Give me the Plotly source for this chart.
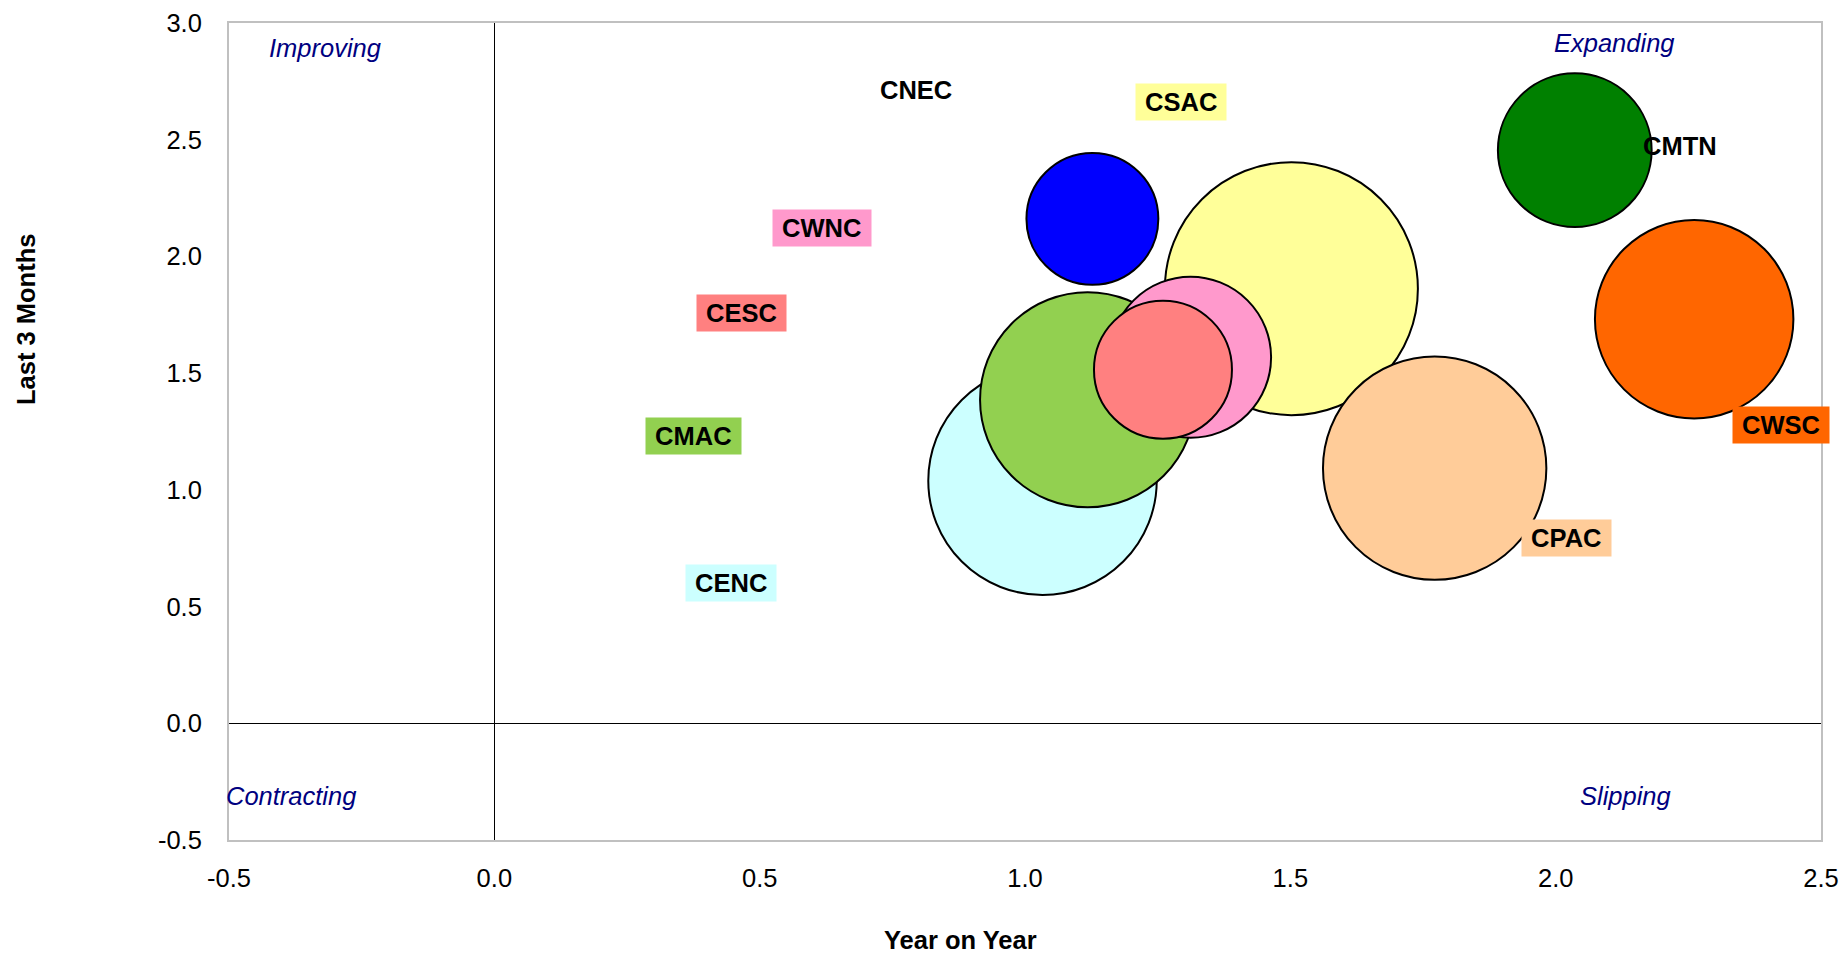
import plotly.graph_objects as go

# Regional growth: year-on-year vs. last-3-months, bubble area = regional weight
regions = ["CNEC", "CSAC", "CMTN", "CWSC", "CPAC", "CENC", "CMAC", "CWNC", "CESC"]
year_on_year = [1.127, 1.502, 2.036, 2.261, 1.772, 1.033, 1.118, 1.312, 1.260]
last_3_months = [2.161, 1.862, 2.455, 1.731, 1.093, 1.039, 1.386, 1.568, 1.515]
bubble_size = [5.3, 19.5, 7.2, 12.0, 15.2, 15.9, 14.1, 7.9, 5.8]

x_ticks = [-0.5, 0.0, 0.5, 1.0, 1.5, 2.0, 2.5]
y_ticks = [-0.5, 0.0, 0.5, 1.0, 1.5, 2.0, 2.5, 3.0]

quadrants = ["Improving", "Expanding", "Contracting", "Slipping"]

# ---- styling ----
colors = {
    "CNEC": "#0000FF", "CSAC": "#FFFF99", "CMTN": "#008000",
    "CWSC": "#FF6600", "CPAC": "#FFCC99", "CENC": "#CCFFFF",
    "CMAC": "#92D050", "CWNC": "#FF99CC", "CESC": "#FF8080",
}
# label placement relative to each bubble centre (px, y up)
label_offsets = {
    "CNEC": (-176, 129), "CSAC": (-110, 187), "CMTN": (105, 4),
    "CWSC": (87, -106), "CPAC": (132, -70), "CENC": (-312, -102),
    "CMAC": (-394, -36), "CWNC": (-369, 129), "CESC": (-421, 57),
}
plain_labels = {"CNEC", "CMTN"}
quadrant_pos = {
    "Improving": (-0.32, 2.894), "Expanding": (2.111, 2.916),
    "Contracting": (-0.384, -0.311), "Slipping": (2.131, -0.311),
}

FONT = "Liberation Sans, Arial, sans-serif"
FS = 25.5
MAX_R = 126.5  # radius in px of the largest bubble

W, H = 1843, 955
ML, MR, MT, MB = 229, 22, 23, 115

# larger bubbles drawn first so smaller ones sit on top
order = sorted(range(len(regions)), key=lambda i: -bubble_size[i])

fig = go.Figure()
fig.add_trace(go.Scatter(
    x=[year_on_year[i] for i in order],
    y=[last_3_months[i] for i in order],
    text=[regions[i] for i in order],
    mode="markers",
    marker=dict(
        size=[bubble_size[i] for i in order],
        sizemode="area",
        sizeref=max(bubble_size) / (2 * MAX_R ** 2),
        color=[colors[regions[i]] for i in order],
        opacity=1,
        line=dict(color="black", width=2),
    ),
    hovertemplate="%{text}<br>YoY %{x:.2f}<br>3M %{y:.2f}<extra></extra>",
    showlegend=False,
))

annotations = []
for i, name in enumerate(regions):
    dx, dy = label_offsets[name]
    plain = name in plain_labels
    annotations.append(dict(
        x=year_on_year[i], y=last_3_months[i], xref="x", yref="y",
        xshift=dx, yshift=dy, showarrow=False,
        text=name if plain else "\u2009" + name + "\u2009",
        font=dict(family=FONT, size=FS, color="black", weight="bold"),
        bgcolor="rgba(0,0,0,0)" if plain else colors[name],
        borderpad=4, xanchor="center", yanchor="middle",
    ))

for q in quadrants:
    qx, qy = quadrant_pos[q]
    annotations.append(dict(
        x=qx, y=qy, xref="x", yref="y", showarrow=False, text=q,
        font=dict(family=FONT, size=FS, color="#000080", style="italic"),
        xanchor="center", yanchor="middle",
    ))

# axis titles
annotations.append(dict(
    x=(26 - ML) / (W - ML - MR), y=(H - MB - 319) / (H - MT - MB),
    xref="paper", yref="paper", showarrow=False, text="Last 3 Months",
    textangle=-90, font=dict(family=FONT, size=FS, color="black", weight="bold"),
    xanchor="center", yanchor="middle",
))
annotations.append(dict(
    x=(960 - ML) / (W - ML - MR), y=(H - MB - 940) / (H - MT - MB),
    xref="paper", yref="paper", showarrow=False, text="Year on Year",
    font=dict(family=FONT, size=FS, color="black", weight="bold"),
    xanchor="center", yanchor="middle",
))

x_range = [x_ticks[0], x_ticks[-1]]
y_range = [y_ticks[0], y_ticks[-1]]
fmt = lambda v: f"{v:.1f}"

fig.update_layout(
    template="none",
    width=W, height=H,
    margin=dict(l=ML, r=MR, t=MT, b=MB, pad=0, autoexpand=False),
    paper_bgcolor="white", plot_bgcolor="white",
    font=dict(family=FONT, size=FS, color="black"),
    showlegend=False,
    annotations=annotations,
    xaxis=dict(
        range=x_range, tickvals=x_ticks, ticktext=[fmt(v) for v in x_ticks],
        ticks="", ticklabelstandoff=14, showgrid=False, automargin=False,
        zeroline=True, zerolinecolor="black", zerolinewidth=1,
        showline=True, linecolor="#C0C0C0", linewidth=2, mirror=True,
        tickfont=dict(family=FONT, size=FS, color="black"),
    ),
    yaxis=dict(
        range=y_range, tickvals=y_ticks, ticktext=[fmt(v) for v in y_ticks],
        ticks="", ticklabelstandoff=20, showgrid=False, automargin=False,
        zeroline=True, zerolinecolor="black", zerolinewidth=1,
        showline=True, linecolor="#C0C0C0", linewidth=2, mirror=True,
        tickfont=dict(family=FONT, size=FS, color="black"),
    ),
    # tick marks sitting on the zero lines
    xaxis2=dict(
        overlaying="x", anchor="free", automargin=False,
        position=(0 - y_range[0]) / (y_range[1] - y_range[0]),
        range=x_range, tickvals=x_ticks, showticklabels=False,
        ticks="outside", ticklen=7, tickwidth=1, tickcolor="#808080",
        showgrid=False, zeroline=False, showline=False,
    ),
    yaxis2=dict(
        overlaying="y", anchor="free", automargin=False,
        position=(0 - x_range[0]) / (x_range[1] - x_range[0]),
        range=y_range, tickvals=y_ticks, showticklabels=False,
        ticks="outside", ticklen=7, tickwidth=1, tickcolor="#808080",
        showgrid=False, zeroline=False, showline=False,
    ),
)

fig.write_html(
    "out.html",
    post_script="document.body.style.margin='0';document.documentElement.style.overflow='hidden';",
)
